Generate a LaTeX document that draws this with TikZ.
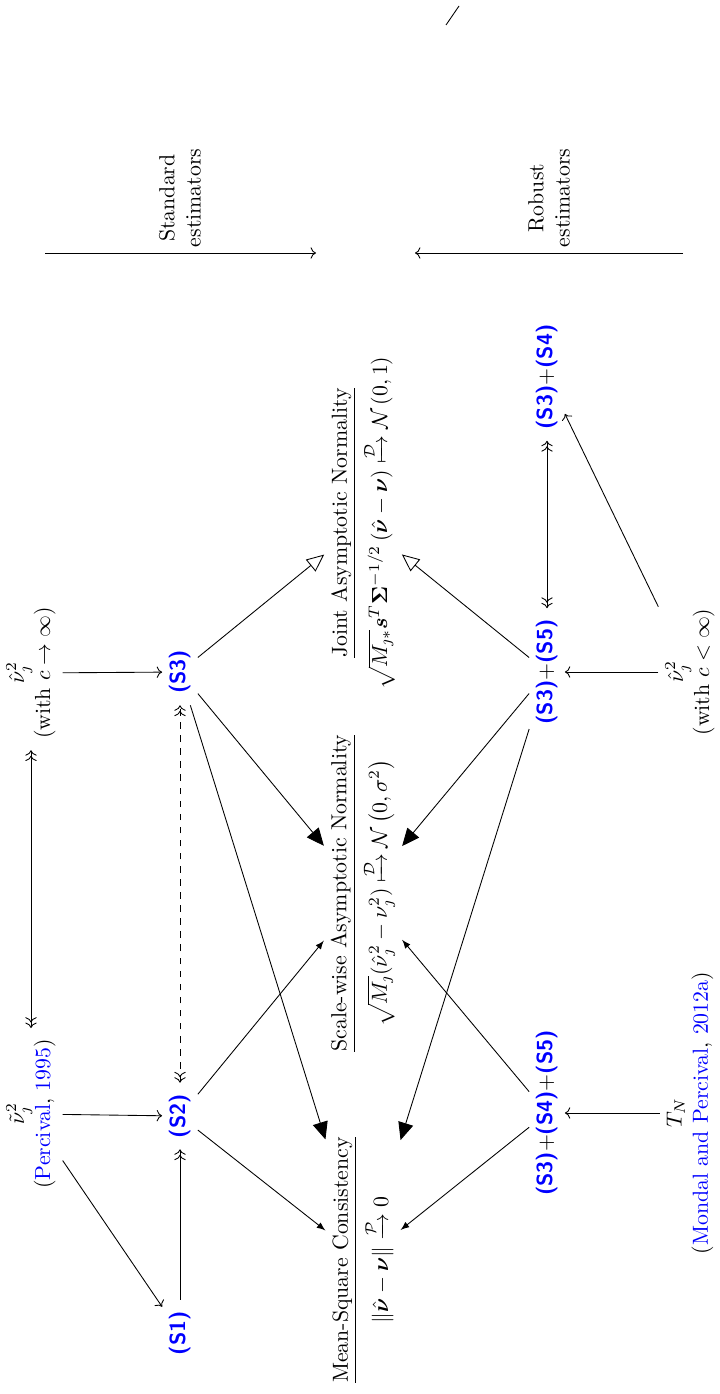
\documentclass[tikz,border=0pt]{standalone}
\usepackage{amsmath,amssymb,mathtools,bm}
\usetikzlibrary{arrows.meta}
\definecolor{lnk}{rgb}{0,0,1}
\newcommand{\sasm}[1]{{\color{lnk}\sffamily\bfseries(S#1)}}
\begin{document}
\begin{tikzpicture}[x=0.4587pt,y=-0.4587pt,
  every node/.style={rotate=90, inner xsep=5pt, inner ysep=3pt, align=center},
  smallarr/.style={-latex},
  bigarr/.style={-{Triangle[length=8pt,width=7pt]}},
  openarr/.style={-{Triangle[open,length=8pt,width=7pt]}},
  twoarr/.style={<<->>},
]
\useasboundingbox (0,0) rectangle (719,1394);

% top row (left column in image)
\node (pt) at (31,1114) {$\tilde{\nu}_\jmath^2$\\({\color{lnk}Percival}, {\color{lnk}1995})};
\node (hinf) at (31,673) {$\hat{\nu}_\jmath^2$\\(with $c\to\infty$)};

% standard assumptions
\node (s1) at (180,1333) {\sasm{1}};
\node (s2) at (180,1116) {\sasm{2}};
\node (s3) at (180,672) {\sasm{3}};

% properties
\node (msc) at (363,1260) {\underline{Mean-Square Consistency}\\[2pt]$\|\hat{\bm\nu}-\bm\nu\|\xrightarrow{\mathcal{P}}0$};
\node (sc) at (363,893) {\underline{Scale-wise Asymptotic Normality}\\[2pt]$\sqrt{M_\jmath}(\hat{\nu}_\jmath^2-\nu_\jmath^2)\xmapsto{\mathcal{D}}\mathcal{N}\left(0,\sigma^2\right)$};
\node (jt) at (363,523) {\underline{Joint Asymptotic Normality}\\[2pt]$\sqrt{M_{\jmath *}}\bm{s}^T\bm{\Sigma}^{-1/2}\left(\hat{\bm\nu}-\bm\nu\right)\xmapsto{\mathcal{D}}\mathcal{N}\left(0,1\right)$};

% robust assumptions
\node (r345) at (547,1113) {\sasm{3}+\sasm{4}+\sasm{5}};
\node (r35) at (547,672) {\sasm{3}+\sasm{5}};
\node (r34) at (547,377) {\sasm{3}+\sasm{4}};

% bottom row (right column in image)
\node (tn) at (690,1113) {$T_N$\\({\color{lnk}Mondal and Percival}, {\color{lnk}2012a})};
\node (hfin) at (690,672) {$\hat{\nu}_\jmath^2$\\(with $c<\infty$)};

% estimator arrows
\coordinate (sa) at (45,253);
\coordinate (sb) at (316,253);
\coordinate (ra) at (683,253);
\coordinate (rb) at (415,253);
\draw[->] (sa) -- (sb);
\draw[->] (ra) -- (rb);
\node (stdlbl) at (180,198) {Standard\\estimators};
\node (roblbl) at (549,198) {Robust\\estimators};

\coordinate (sl1) at (446,25);
\coordinate (sl2) at (459,6);
\draw (sl1) -- (sl2);

% connectors, standard side
\draw[twoarr] (pt) -- (hinf);
\draw[->] (pt) -- (s1);
\draw[->] (pt) -- (s2);
\draw[->] (hinf) -- (s3);
\draw[->>] (s1) -- (s2);
\draw[twoarr, dashed] (s2) -- (s3);
\draw[smallarr] (s2) -- (msc);
\draw[smallarr] (s2) -- (sc);
\draw[bigarr] (s3) -- (msc);
\draw[bigarr] (s3) -- (sc);
\draw[openarr] (s3) -- (jt);

% connectors, robust side
\draw[->] (tn) -- (r345);
\draw[->] (hfin) -- (r35);
\draw[->] (hfin) -- (r34);
\draw[twoarr] (r35) -- (r34);
\draw[smallarr] (r345) -- (msc);
\draw[smallarr] (r345) -- (sc);
\draw[bigarr] (r35) -- (msc);
\draw[bigarr] (r35) -- (sc);
\draw[openarr] (r35) -- (jt);
\end{tikzpicture}
\end{document}
